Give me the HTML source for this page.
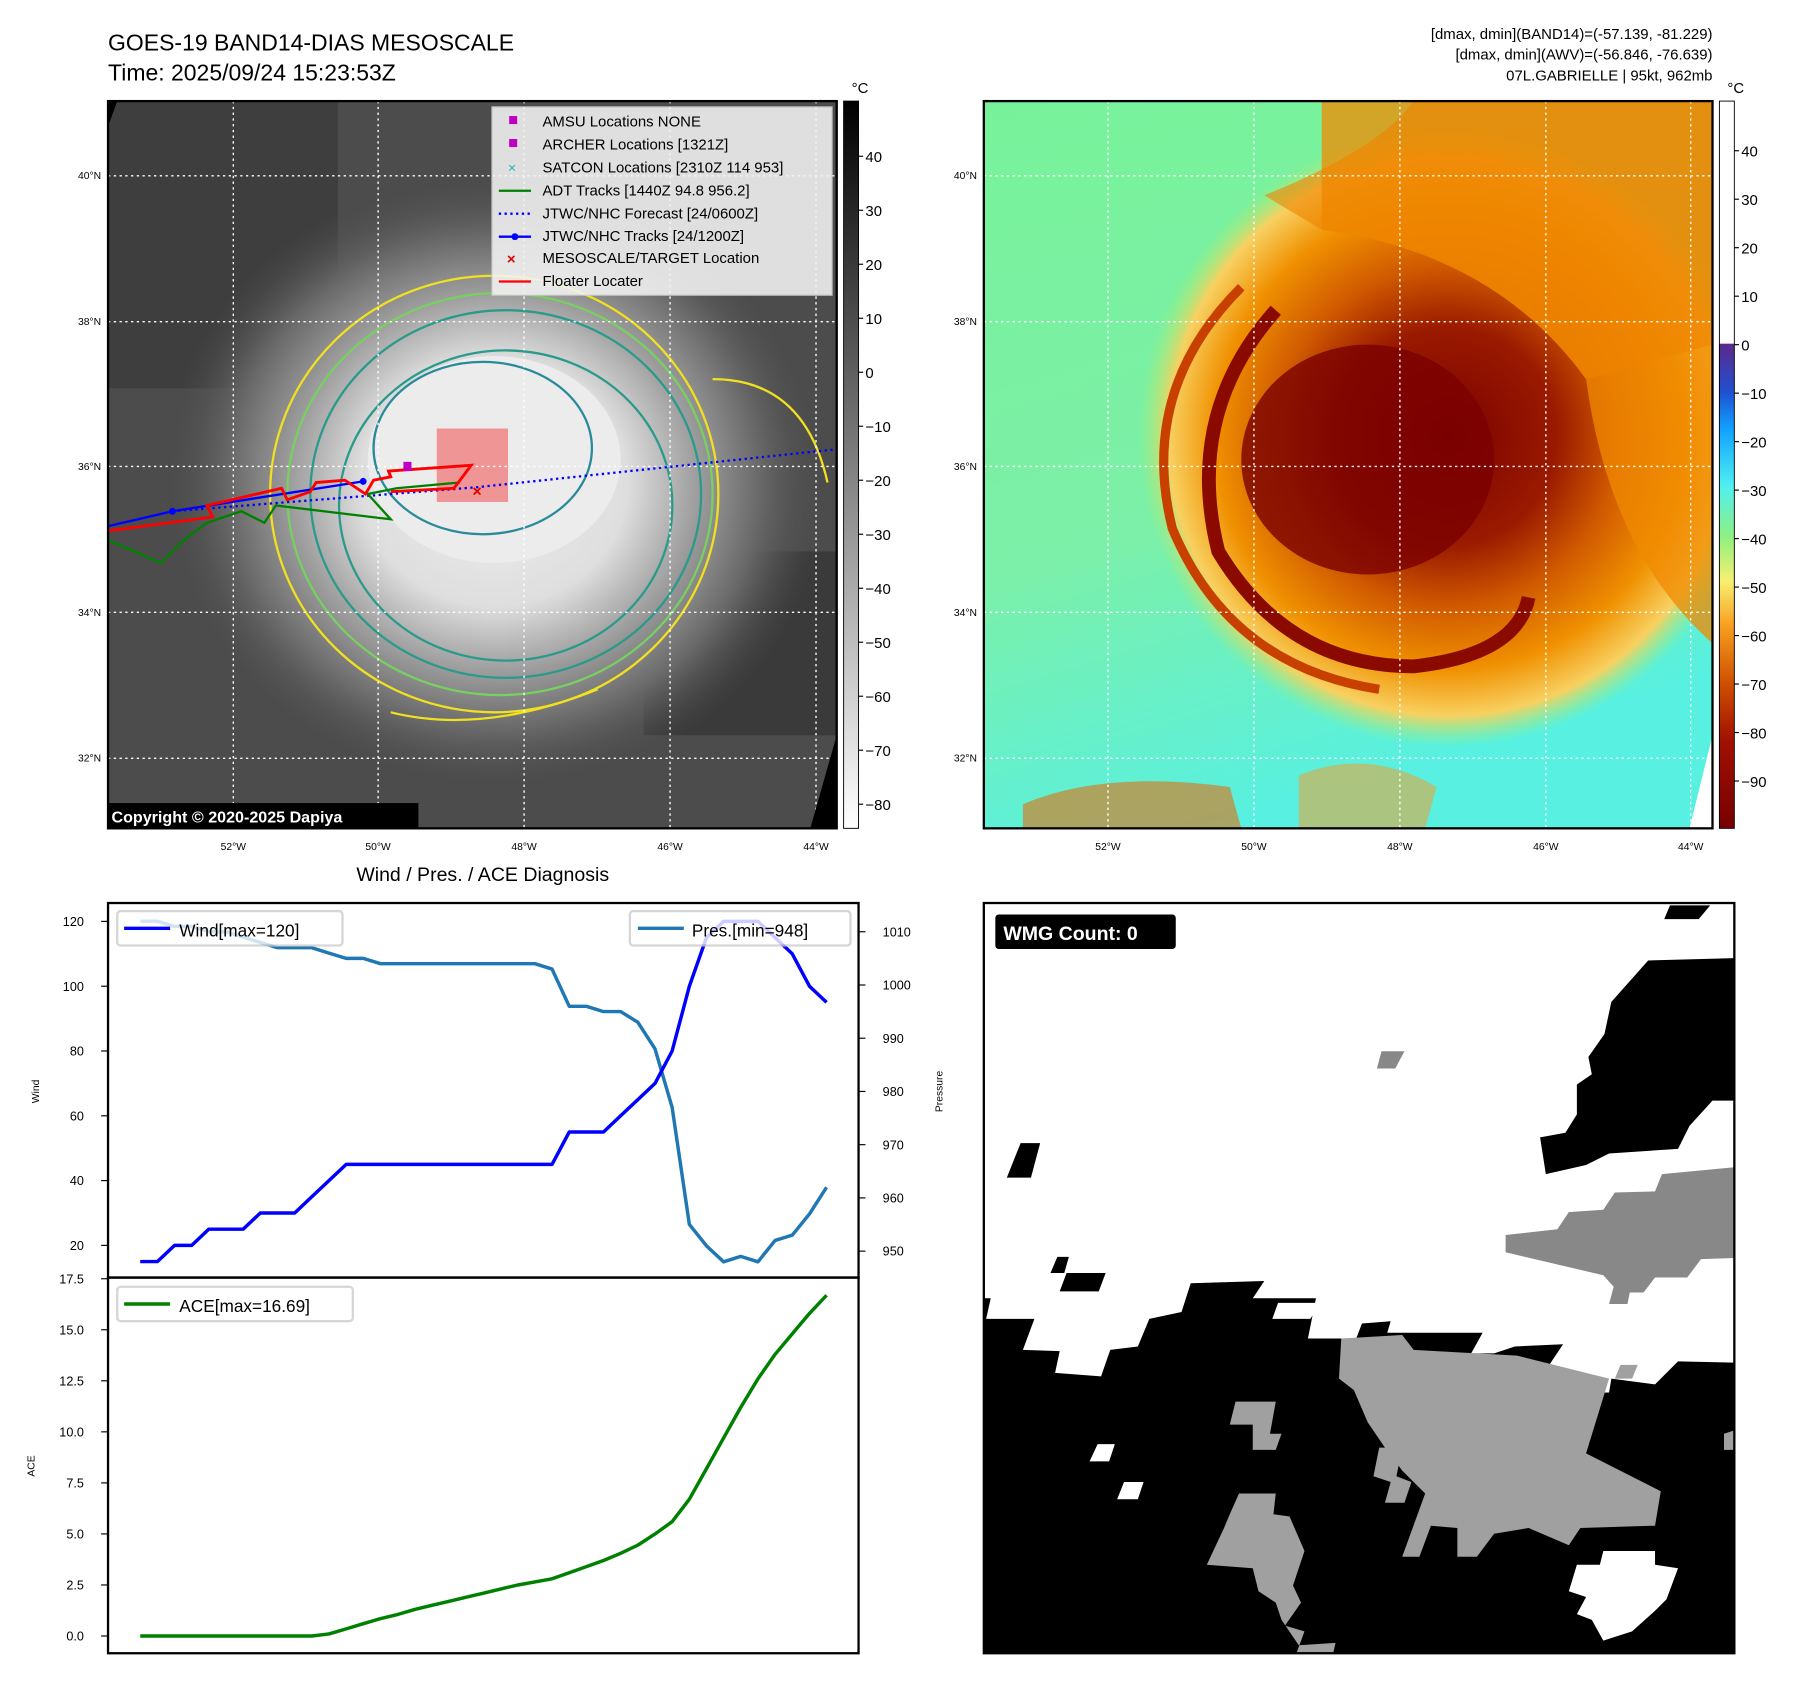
<!DOCTYPE html>
<html><head><meta charset="utf-8"><style>
html,body{margin:0;padding:0;background:#fff;width:1801px;height:1690px;overflow:hidden}
svg{display:block;font-family:"Liberation Sans","DejaVu Sans",sans-serif}
</style></head><body>
<svg id="fig" width="1801" height="1690" viewBox="0 0 1567 1471" preserveAspectRatio="none" xmlns="http://www.w3.org/2000/svg">
<defs>
<radialGradient id="gL" cx="0.5" cy="0.5" r="0.5">
<stop offset="0" stop-color="#efefef"/><stop offset="0.4" stop-color="#dedede"/><stop offset="0.6" stop-color="#a0a0a0"/><stop offset="0.8" stop-color="#686868"/><stop offset="1" stop-color="#4a4a4a" stop-opacity="0"/></radialGradient>
<radialGradient id="gR" cx="0.5" cy="0.5" r="0.5">
<stop offset="0" stop-color="#7a0000"/><stop offset="0.35" stop-color="#9a1a00"/><stop offset="0.55" stop-color="#d05a00"/><stop offset="0.75" stop-color="#f09000"/><stop offset="0.9" stop-color="#f8d060"/><stop offset="1" stop-color="#a0f070" stop-opacity="0"/></radialGradient>
<linearGradient id="gBg" x1="0" y1="0" x2="0.3" y2="1"><stop offset="0" stop-color="#78f29a"/><stop offset="0.6" stop-color="#7cf0a8"/><stop offset="1" stop-color="#58f0e0"/></linearGradient>
<linearGradient id="cbL" x1="0" y1="0" x2="0" y2="1"><stop offset="0" stop-color="#000"/><stop offset="1" stop-color="#fff"/></linearGradient>
<linearGradient id="cbR" x1="0" y1="0" x2="0" y2="1">
<stop offset="0" stop-color="#fff"/><stop offset="0.333" stop-color="#fff"/><stop offset="0.334" stop-color="#5a2a8c"/><stop offset="0.4" stop-color="#2050d0"/><stop offset="0.45" stop-color="#10a0ff"/><stop offset="0.53" stop-color="#50f0f0"/><stop offset="0.6" stop-color="#90f080"/><stop offset="0.66" stop-color="#f8f070"/><stop offset="0.72" stop-color="#f8a020"/><stop offset="0.8" stop-color="#d05000"/><stop offset="0.88" stop-color="#a01000"/><stop offset="1" stop-color="#780000"/></linearGradient>
<clipPath id="cL"><rect x="94" y="88" width="634" height="633"/></clipPath>
<clipPath id="cR"><rect x="856" y="88" width="634" height="633"/></clipPath>
</defs>

<text x="94" y="44" font-size="20">GOES-19 BAND14-DIAS MESOSCALE</text>
<text x="94" y="70" font-size="20">Time: 2025/09/24 15:23:53Z</text>
<g font-size="13" text-anchor="end">
<text x="1490" y="34">[dmax, dmin](BAND14)=(-57.139, -81.229)</text>
<text x="1490" y="52">[dmax, dmin](AWV)=(-56.846, -76.639)</text>
<text x="1490" y="70">07L.GABRIELLE | 95kt, 962mb</text>
</g>

<g clip-path="url(#cL)">
<rect x="94" y="88" width="634" height="633" fill="#4c4c4c"/>
<rect x="94" y="88" width="200" height="250" fill="#3e3e3e"/>
<rect x="560" y="480" width="170" height="160" fill="#3a3a3a"/>
<ellipse cx="430" cy="420" rx="290" ry="270" fill="url(#gL)"/>
<ellipse cx="430" cy="400" rx="110" ry="90" fill="#ececec"/>
<g fill="none" stroke-width="2">
<ellipse cx="440" cy="430" rx="170" ry="160" stroke="#2a9a8a"/>
<ellipse cx="435" cy="430" rx="185" ry="175" stroke="#78d060"/>
<ellipse cx="430" cy="430" rx="195" ry="190" stroke="#f0e020"/>
<ellipse cx="440" cy="440" rx="145" ry="135" stroke="#2a9a8a"/>
<ellipse cx="420" cy="390" rx="95" ry="75" stroke="#2a8a9a"/>
<path d="M340 620 Q420 640 520 600" stroke="#f0e020"/>
<path d="M620 330 Q700 330 720 420" stroke="#f0e020"/>
</g>
<path d="M380 373H442V437H380Z" fill="#f08080" opacity="0.8"/>
<g stroke="#fff" stroke-dasharray="2,3" stroke-width="1.2">
<path d="M203 88V721M329 88V721M456 88V721M583 88V721M710 88V721M94 153H728M94 280H728M94 406H728M94 533H728M94 660H728"/>
</g>
<path d="M150 445 L416 424 L728 391" stroke="#0000ff" stroke-width="2" stroke-dasharray="2,3" fill="none"/>
<path d="M94 458 L150 445 L316 419" stroke="#0000ff" stroke-width="2" fill="none"/>
<circle cx="150" cy="445" r="3" fill="#00f"/><circle cx="316" cy="419" r="3" fill="#00f"/>
<path d="M94 470 L140 490 L160 470 L180 455 L210 445 L230 455 L240 440 L340 452 L320 430 L345 425 L400 420" stroke="#008000" stroke-width="2" fill="none"/>
<path d="M94 462 L185 450 L180 440 L245 425 L250 435 L270 428 L275 420 L300 418 L318 430 L325 418 L340 415 L338 410 L410 405 L395 425 L340 428" stroke="#ff0000" stroke-width="2.5" fill="none"/>
<rect x="351" y="402" width="7" height="8" fill="#c000c0"/>
<text x="411" y="432" fill="#e00000" font-size="14" font-weight="bold">×</text>
<path d="M94 88 L102 88 L94 110Z M728 640 L728 721 L705 721Z" fill="#000"/>
</g>
<rect x="94" y="88" width="634" height="633" fill="none" stroke="#000" stroke-width="2"/>
<g font-size="13">
<rect x="428" y="93" width="296" height="164" fill="#f4f4f4" opacity="0.88" stroke="#ccc"/>
<rect x="443" y="101" width="7" height="7" fill="#c000c0"/><text x="472" y="110">AMSU Locations NONE</text>
<rect x="443" y="121" width="7" height="7" fill="#c000c0"/><text x="472" y="130">ARCHER Locations [1321Z]</text>
<text x="442" y="150" fill="#20b0b0" font-size="12">×</text><text x="472" y="150">SATCON Locations [2310Z 114 953]</text>
<path d="M434 166H462" stroke="#008000" stroke-width="2"/><text x="472" y="170">ADT Tracks [1440Z 94.8 956.2]</text>
<path d="M434 186H462" stroke="#00f" stroke-width="2" stroke-dasharray="2,3"/><text x="472" y="190">JTWC/NHC Forecast [24/0600Z]</text>
<path d="M434 206H462" stroke="#00f" stroke-width="2"/><circle cx="448" cy="206" r="3" fill="#00f"/><text x="472" y="210">JTWC/NHC Tracks [24/1200Z]</text>
<text x="441" y="230" fill="#e00000" font-weight="bold">×</text><text x="472" y="229">MESOSCALE/TARGET Location</text>
<path d="M434 245H462" stroke="#f00" stroke-width="2"/><text x="472" y="249">Floater Locater</text>
</g>
<g><rect x="94" y="699" width="270" height="22" fill="#000"/><text x="97" y="716" fill="#fff" font-size="14" font-weight="bold">Copyright © 2020-2025 Dapiya</text></g>
<g font-size="9" text-anchor="end">
<text x="88" y="156">40°N</text><text x="88" y="283">38°N</text><text x="88" y="409">36°N</text><text x="88" y="536">34°N</text><text x="88" y="663">32°N</text></g>
<g font-size="9" text-anchor="middle">
<text x="203" y="740">52°W</text><text x="329" y="740">50°W</text><text x="456" y="740">48°W</text><text x="583" y="740">46°W</text><text x="710" y="740">44°W</text></g>
<rect x="734" y="88" width="13" height="633" fill="url(#cbL)" stroke="#000" stroke-width="0.8"/>
<text x="741" y="81" font-size="13">°C</text>
<g id="cbLt" font-size="13"></g>

<g clip-path="url(#cR)">
<rect x="856" y="88" width="634" height="633" fill="url(#gBg)"/>
<ellipse cx="1260" cy="380" rx="270" ry="270" fill="url(#gR)"/>
<path d="M1150 88 H1490 V560 Q1400 480 1380 330 Q1300 220 1150 200 Z" fill="#f08a00" opacity="0.75"/>
<path d="M1230 88 Q1200 130 1100 170 L1150 200 Q1300 220 1380 330 L1490 300 V88Z" fill="#ef8400" opacity="0.6"/>
<ellipse cx="1190" cy="400" rx="110" ry="100" fill="#7a0000" opacity="0.8"/>
<path d="M1110 270 Q1030 360 1060 480 Q1120 580 1230 580 Q1320 570 1330 520" fill="none" stroke="#8a0a00" stroke-width="12"/>
<path d="M1080 250 Q990 340 1020 460 Q1070 580 1200 600" fill="none" stroke="#c84000" stroke-width="8"/>
<path d="M890 700 Q960 670 1070 685 L1080 721 L890 721Z" fill="#e07010" opacity="0.6"/>
<path d="M1130 675 Q1190 650 1250 685 L1240 721 L1130 721Z" fill="#f0a030" opacity="0.55"/>
<path d="M1490 640 L1490 721 L1470 721Z" fill="#fff"/>
<g stroke="#fff" stroke-dasharray="2,3" stroke-width="1.2">
<path d="M964 88V721M1091 88V721M1218 88V721M1345 88V721M1471 88V721M856 153H1490M856 280H1490M856 406H1490M856 533H1490M856 660H1490"/></g>
</g>
<rect x="856" y="88" width="634" height="633" fill="none" stroke="#000" stroke-width="2"/>
<g font-size="9" text-anchor="end">
<text x="850" y="156">40°N</text><text x="850" y="283">38°N</text><text x="850" y="409">36°N</text><text x="850" y="536">34°N</text><text x="850" y="663">32°N</text></g>
<g font-size="9" text-anchor="middle">
<text x="964" y="740">52°W</text><text x="1091" y="740">50°W</text><text x="1218" y="740">48°W</text><text x="1345" y="740">46°W</text><text x="1471" y="740">44°W</text></g>
<rect x="1496" y="88" width="13" height="633" fill="url(#cbR)" stroke="#000" stroke-width="0.8"/>
<text x="1503" y="81" font-size="13">°C</text>
<g id="cbRt" font-size="13"></g>

<text x="420" y="767" font-size="17" text-anchor="middle">Wind / Pres. / ACE Diagnosis</text>
<g id="chart"></g>
<rect x="94" y="786" width="653" height="326" fill="none" stroke="#000" stroke-width="2"/>
<rect x="94" y="1112" width="653" height="327" fill="none" stroke="#000" stroke-width="2"/>
<text transform="translate(34,950) rotate(-90)" font-size="9" text-anchor="middle">Wind</text>
<text transform="translate(820,950) rotate(-90)" font-size="9" text-anchor="middle">Pressure</text>
<text transform="translate(30,1276) rotate(-90)" font-size="9" text-anchor="middle">ACE</text>
<g><rect x="102" y="793" width="196" height="30" fill="#fff" opacity="0.8" stroke="#ccc" stroke-width="2" rx="3"/><path d="M108 808H148" stroke="#00f" stroke-width="3"/><text x="156" y="815" font-size="15">Wind[max=120]</text></g>
<g><rect x="548" y="793" width="192" height="30" fill="#fff" opacity="0.8" stroke="#ccc" stroke-width="2" rx="3"/><path d="M555 808H595" stroke="#1f77b4" stroke-width="3"/><text x="602" y="815" font-size="15">Pres.[min=948]</text></g>
<g><rect x="102" y="1120" width="205" height="30" fill="#fff" opacity="0.8" stroke="#ccc" stroke-width="2" rx="3"/><path d="M108 1135H148" stroke="#008000" stroke-width="3"/><text x="156" y="1142" font-size="15">ACE[max=16.69]</text></g>

<g>
<rect x="856" y="786" width="653" height="653" fill="#fff"/>
<g fill="#000">
<path d="M1453 788H1488L1478 800H1448Z"/>
<path d="M1434 836L1509 834V958L1490 958L1470 980L1460 1000L1400 1004L1380 1014L1345 1022L1340 990L1362 986L1372 970L1372 944L1385 935L1382 920L1396 900L1402 872Z"/>
<path d="M888 995H905L897 1025H876Z"/>
<path d="M920 1094H930L926 1108H914Z M928 1108H962L956 1124H922Z"/>
<path d="M856 1130L862 1130L858 1148H900L890 1175L922 1176L918 1195L958 1198L966 1175L990 1172L1000 1148L1028 1142L1036 1117L1100 1115L1090 1130L1145 1130L1138 1165L1180 1165L1185 1152L1210 1150L1207 1160L1290 1160L1280 1178L1300 1178L1318 1172L1360 1170L1340 1200L1365 1205L1360 1213L1400 1212L1402 1200L1440 1205L1460 1185L1509 1186V1439H856Z"/>
</g>
<path d="M1112 1134H1150L1140 1148H1107Z" fill="#fff"/>
<path d="M1202 915H1222L1214 930H1198Z" fill="#888"/>
<path d="M1310 1075L1355 1070L1365 1055L1395 1053L1405 1038L1440 1037L1446 1022L1509 1016V1095L1480 1096L1468 1112L1440 1112L1430 1125L1418 1125L1416 1135L1400 1135L1404 1120L1395 1110L1310 1090Z" fill="#888"/>
<path d="M1167 1165L1220 1162L1230 1175L1320 1180L1400 1200L1380 1265L1445 1298L1440 1328L1375 1330L1365 1345L1330 1330L1300 1335L1285 1355L1268 1355L1268 1330L1245 1328L1235 1355L1220 1355L1240 1300L1220 1280L1205 1260L1190 1238L1178 1210L1165 1200Z" fill="#a0a0a0"/>
<path d="M1410 1188H1425L1420 1200H1405Z" fill="#a0a0a0"/>
<path d="M1075 1220H1110L1105 1248L1115 1248L1110 1262H1090L1090 1240L1070 1240Z" fill="#a0a0a0"/>
<path d="M1200 1260H1220L1215 1285L1228 1290L1222 1308L1205 1308L1210 1290L1195 1285Z" fill="#a0a0a0"/>
<path d="M1078 1300H1110L1108 1318L1122 1320L1135 1350L1125 1380L1132 1395L1118 1415L1135 1420L1128 1439H1160L1162 1430L1130 1432L1115 1410L1110 1395L1095 1385L1090 1365L1050 1362L1065 1330L1070 1318Z" fill="#a0a0a0"/>
<path d="M1500 1248L1509 1245V1262L1500 1262Z" fill="#a0a0a0"/>
<path d="M1372 1362L1392 1362L1395 1350L1440 1350L1440 1362L1460 1365L1450 1392L1440 1402L1420 1420L1395 1428L1385 1410L1372 1405L1380 1390L1365 1385Z" fill="#fff"/>
<path d="M955 1257H970L965 1272H948Z M978 1290H995L990 1305H972Z" fill="#fff"/>
<rect x="856" y="786" width="653" height="653" fill="none" stroke="#000" stroke-width="2"/>
<rect x="866" y="796" width="157" height="30" rx="3" fill="#000"/>
<text x="873" y="818" fill="#fff" font-size="17" font-weight="bold">WMG Count: 0</text>
</g>
</svg>
<script>
const windValues=[15,15,20,20,25,25,25,30,30,30,35,40,45,45,45,45,45,45,45,45,45,45,45,45,45,55,55,55,60,65,70,80,100,115,120,120,120,115,110,100,95];
const pressureValues=[1012,1012,1011,1011,1010,1010,1009,1008,1007,1007,1007,1006,1005,1005,1004,1004,1004,1004,1004,1004,1004,1004,1004,1004,1003,996,996,995,995,993,988,977,955,951,948,949,948,952,953,957,962];
const aceValues=[0,0,0,0,0,0,0,0,0,0,0,0.1,0.35,0.6,0.85,1.05,1.3,1.5,1.7,1.9,2.1,2.3,2.5,2.65,2.8,3.1,3.4,3.7,4.05,4.45,5.0,5.6,6.7,8.2,9.7,11.2,12.6,13.8,14.8,15.8,16.69];
const windTicks=[20,40,60,80,100,120];
const pressureTicks=[950,960,970,980,990,1000,1010];
const aceTicks=[0,2.5,5,7.5,10,12.5,15,17.5];
const leftCbTicks=[40,30,20,10,0,-10,-20,-30,-40,-50,-60,-70,-80];
const rightCbTicks=[40,30,20,10,0,-10,-20,-30,-40,-50,-60,-70,-80,-90];
const NS='http://www.w3.org/2000/svg';
const xS=i=>122+i*14.93;
const yW=v=>1084-(v-20)*2.82;
const yP=v=>1089-(v-950)*4.633;
const yA=v=>1424-v*17.77;
const yCL=v=>136+(40-v)*4.7;
const yCR=v=>300-v*4.22;
const chart=document.getElementById('chart');
function mk(tag,attrs,parent){const e=document.createElementNS(NS,tag);for(const k in attrs)e.setAttribute(k,attrs[k]);parent.appendChild(e);return e;}
function line(vals,yf,color,name){
  const d=vals.map((v,i)=>(i?'L':'M')+xS(i).toFixed(1)+' '+yf(v).toFixed(1)).join(' ');
  const p=mk('path',{d:d,fill:'none',stroke:color,'stroke-width':3,'stroke-linejoin':'round'},chart);
  
  
}
line(pressureValues,yP,'#1f77b4','pressure-line');
line(windValues,yW,'#0000ff','wind-line');
line(aceValues,yA,'#008000','ace-line');
windTicks.forEach(v=>{const y=yW(v);mk('path',{d:`M88 ${y}H94`,stroke:'#000'},chart);
  const t=mk('text',{x:73,y:y+4,'font-size':11,'text-anchor':'end'},chart);t.textContent=v;
  
  });
pressureTicks.forEach(v=>{const y=yP(v);mk('path',{d:`M747 ${y}H753`,stroke:'#000'},chart);
  const t=mk('text',{x:768,y:y+4,'font-size':11},chart);t.textContent=v;
  
  });
aceTicks.forEach(v=>{const y=yA(v);mk('path',{d:`M88 ${y}H94`,stroke:'#000'},chart);
  const t=mk('text',{x:73,y:y+4,'font-size':11,'text-anchor':'end'},chart);t.textContent=v.toFixed(1);
  
  });
const gl=document.getElementById('cbLt');
leftCbTicks.forEach(v=>{const y=yCL(v);mk('path',{d:`M747 ${y}H751`,stroke:'#000'},gl);
  const t=mk('text',{x:753,y:y+5},gl);t.textContent=v<0?'\u2212'+(-v):v;
  
  });
const gr=document.getElementById('cbRt');
rightCbTicks.forEach(v=>{const y=yCR(v);mk('path',{d:`M1509 ${y}H1513`,stroke:'#000'},gr);
  const t=mk('text',{x:1515,y:y+5},gr);t.textContent=v<0?'\u2212'+(-v):v;
  
  });
</script>
</body></html>
